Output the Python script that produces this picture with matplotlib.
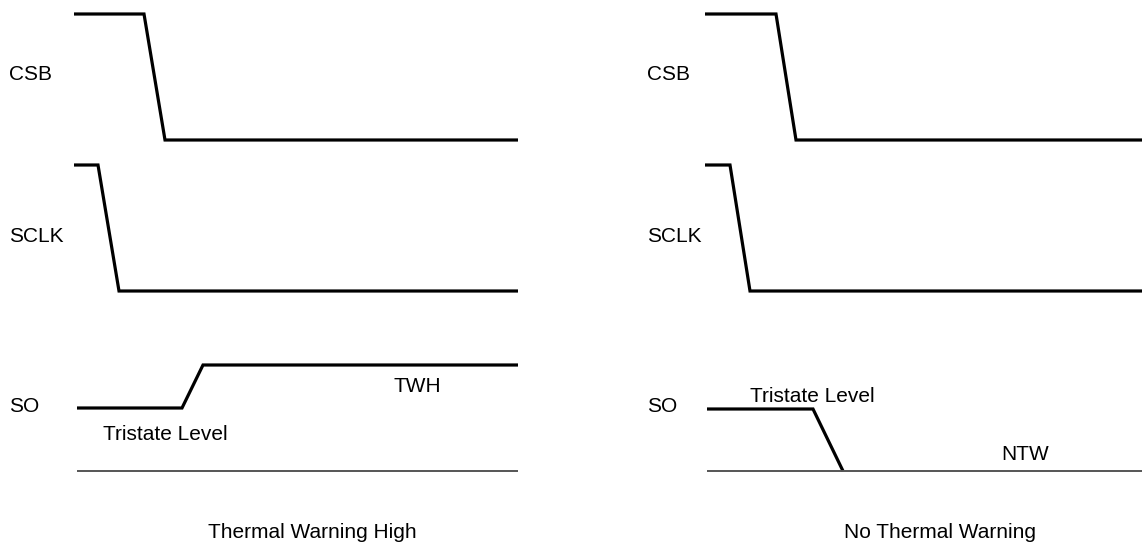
import matplotlib
matplotlib.use("Agg")
import matplotlib.pyplot as plt

# ---- data (waveforms in canvas units: x to the right, y downward) ----
csb_left_x = [74, 144, 165, 518]
csb_left_y = [14, 14, 140, 140]
sclk_left_x = [74, 98, 119, 518]
sclk_left_y = [165, 165, 291, 291]
so_left_x = [77, 182, 203, 518]
so_left_y = [408, 408, 365, 365]
base_left_x = [77, 518]
base_left_y = [471, 471]

csb_right_x = [705, 776, 796, 1142]
csb_right_y = [14, 14, 140, 140]
sclk_right_x = [705, 730, 750, 1142]
sclk_right_y = [165, 165, 291, 291]
so_right_x = [707, 813, 843]
so_right_y = [409, 409, 471]
base_right_x = [707, 1142]
base_right_y = [471, 471]

signal_labels = ["CSB", "SCLK", "SO"]
signal_label_y = [73, 235, 404]
signal_label_x = [9, 647]
panel_titles = ["Thermal Warning High", "No Thermal Warning"]
panel_title_x = [312, 940]
panel_title_y = 530
annotations = [("Tristate Level", 103, 432), ("TWH", 393, 385),
               ("Tristate Level", 750, 394), ("NTW", 1001, 452)]

plt.rcParams['font.family'] = ['Liberation Sans', 'DejaVu Sans']
fig = plt.figure(figsize=(11.42, 5.42), dpi=100)
ax = fig.add_axes([0, 0, 1, 1])
ax.set_xlim(0, 1142)
ax.set_ylim(542, 0)
ax.axis('off')

thick = dict(color='black', lw=2.3, solid_joinstyle='miter', solid_capstyle='butt')
thin = dict(color='#555555', lw=1.4, solid_capstyle='butt')

for xs, ys in [(csb_left_x, csb_left_y), (sclk_left_x, sclk_left_y), (so_left_x, so_left_y),
               (csb_right_x, csb_right_y), (sclk_right_x, sclk_right_y), (so_right_x, so_right_y)]:
    ax.plot(xs, ys, **thick)
for xs, ys in [(base_left_x, base_left_y), (base_right_x, base_right_y)]:
    ax.plot(xs, ys, **thin)

fs = 15
for lx in signal_label_x:
    for lab, ly in zip(signal_labels, signal_label_y):
        ax.text(lx, ly, lab, fontsize=fs, ha='left', va='center_baseline')
for txt, x, y in annotations:
    ax.text(x, y, txt, fontsize=fs, ha='left', va='center_baseline')
for t, x in zip(panel_titles, panel_title_x):
    ax.text(x, panel_title_y, t, fontsize=fs, ha='center', va='center_baseline')

fig.savefig("out.png", dpi=100, facecolor='white')
